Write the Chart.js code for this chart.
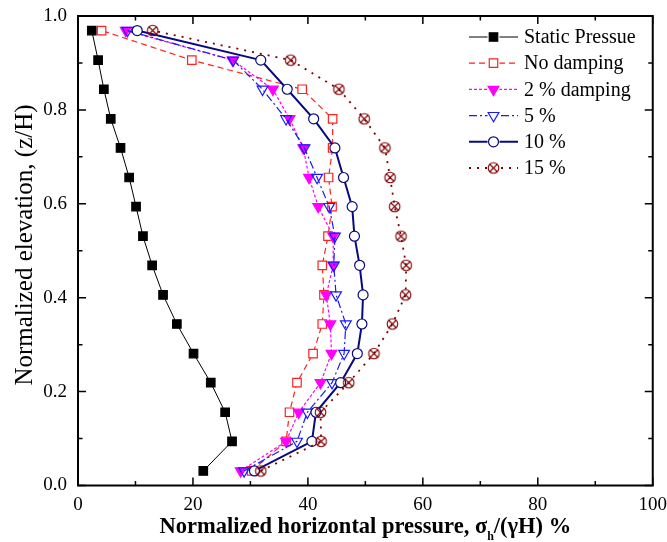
<!DOCTYPE html>
<html>
<head>
<meta charset="utf-8">
<script src="https://cdn.jsdelivr.net/npm/chart.js@4/dist/chart.umd.min.js"></script>
<style>
  html, body { margin: 0; padding: 0; background: #fff; }
  #wrap { width: 667px; height: 542px; }
</style>
</head>
<body>
<div id="wrap"><canvas id="pressureChart" width="667" height="542"></canvas></div>
<script>
// normalized elevation levels z/H (bottom -> top)
const elevation = [0.031, 0.094, 0.156, 0.219, 0.281, 0.344, 0.406, 0.469, 0.531, 0.594, 0.656, 0.719, 0.781, 0.844, 0.906, 0.969];

// normalized horizontal pressure (%) for each curve, same order as elevation
const staticPressure = [21.8, 26.8, 25.6, 23.1, 20.1, 17.2, 14.8, 12.9, 11.3, 10.1, 8.9, 7.4, 5.7, 4.5, 3.5, 2.4];
const noDamping      = [30.2, 36.2, 36.8, 38.1, 40.9, 42.5, 42.8, 42.5, 43.5, 44.2, 43.6, 44.3, 44.3, 39.0, 19.8, 4.1];
const damping2       = [28.3, 36.2, 38.4, 42.2, 44.1, 43.9, 43.2, 44.4, 44.4, 41.8, 40.2, 39.2, 36.8, 33.9, 26.9, 8.3];
const damping5       = [28.9, 38.1, 39.9, 44.2, 46.3, 46.6, 44.9, 44.5, 44.7, 43.7, 41.6, 39.4, 36.2, 32.1, 27.0, 8.6];
const damping10      = [30.7, 40.7, 41.4, 45.7, 48.6, 49.4, 49.6, 49.0, 48.1, 47.7, 46.2, 44.7, 41.0, 36.4, 31.8, 10.3];
const damping15      = [31.8, 42.3, 42.2, 47.1, 51.5, 54.7, 57.0, 57.1, 56.2, 55.1, 54.3, 53.4, 49.8, 45.4, 37.0, 13.0];

const seriesLabels = ['Static Pressue', 'No damping', '2 % damping', '5 %', '10 %', '15 %'];
const xTicks = [0, 20, 40, 60, 80, 100];
const yTicks = [0.0, 0.2, 0.4, 0.6, 0.8, 1.0];

const FONT = "'Liberation Serif', 'Times New Roman', serif";

// circle with an x inside (for the 15 % curve)
function crossCircle(color) {
    const c = document.createElement('canvas');
    c.width = 15; c.height = 15;
    const g = c.getContext('2d');
    g.strokeStyle = color;
    g.lineWidth = 1.1;
    g.beginPath();
    g.arc(7.5, 7.5, 5.3, 0, Math.PI * 2);
    g.stroke();
    const d = 5.3 * Math.SQRT1_2;
    g.beginPath();
    g.moveTo(7.5 - d, 7.5 - d); g.lineTo(7.5 + d, 7.5 + d);
    g.moveTo(7.5 + d, 7.5 - d); g.lineTo(7.5 - d, 7.5 + d);
    g.stroke();
    return c;
}

function pairs(xs) {
    return xs.map((v, i) => ({ x: v, y: elevation[i] }));
}

const styles = [
    { data: staticPressure, color: '#000000', fill: '#000000', dash: [], width: 1, pointStyle: 'rect', radius: 6, rotation: 0 },
    { data: noDamping, color: '#ff2020', fill: '#ffffff', dash: [6, 4], width: 1.2, pointStyle: 'rect', radius: 6, rotation: 0 },
    { data: damping2, color: '#ff00ff', fill: '#ff00ff', dash: [3, 2], width: 1.2, pointStyle: 'triangle', radius: 6.2, rotation: 180 },
    { data: damping5, color: '#1a1aff', fill: 'rgba(255,255,255,0)', dash: [8, 3, 2, 3], width: 1.2, pointStyle: 'triangle', radius: 6.2, rotation: 180 },
    { data: damping10, color: '#0a0a80', fill: '#ffffff', dash: [], width: 2, pointStyle: 'circle', radius: 5, rotation: 0 },
    { data: damping15, color: '#800000', fill: '#ffffff', dash: [2, 6], width: 1.8, pointStyle: crossCircle('#800000'), radius: 6, rotation: 0 }
];

const datasets = styles.map((s, i) => ({
    label: seriesLabels[i],
    data: pairs(s.data),
    showLine: true,
    borderColor: s.color,
    borderWidth: s.width,
    borderDash: s.dash,
    backgroundColor: s.fill,
    pointStyle: s.pointStyle,
    pointRadius: s.radius,
    pointRotation: s.rotation,
    pointBorderColor: s.color,
    pointBackgroundColor: s.fill,
    pointBorderWidth: 1.2,
    tension: 0,
    order: 6 - i      // later curves on top
}));

// frame + inward ticks on all four sides, titles, legend
const framePlugin = {
    id: 'frame',
    afterDraw(chart) {
        const ctx = chart.ctx;
        const a = chart.chartArea;
        const xs = chart.scales.x, ys = chart.scales.y;
        ctx.save();
        ctx.strokeStyle = '#000';
        ctx.lineWidth = 1.5;
        ctx.setLineDash([]);
        for (let v = 0; v <= 100; v += 10) {
            const px = xs.getPixelForValue(v);
            const len = v % 20 === 0 ? 8 : 4.5;
            ctx.beginPath();
            ctx.moveTo(px, a.bottom); ctx.lineTo(px, a.bottom - len);
            ctx.moveTo(px, a.top); ctx.lineTo(px, a.top + len);
            ctx.stroke();
        }
        for (let k = 0; k <= 10; k++) {
            const py = ys.getPixelForValue(k / 10);
            const len = k % 2 === 0 ? 8 : 4.5;
            ctx.beginPath();
            ctx.moveTo(a.left, py); ctx.lineTo(a.left + len, py);
            ctx.moveTo(a.right, py); ctx.lineTo(a.right - len, py);
            ctx.stroke();
        }
        ctx.lineWidth = 2;
        ctx.strokeRect(a.left, a.top, a.right - a.left, a.bottom - a.top);

        // x title with subscript h
        ctx.fillStyle = '#000';
        ctx.textBaseline = 'alphabetic';
        ctx.textAlign = 'left';
        const big = 'bold 22.5px ' + FONT, small = 'bold 12px ' + FONT;
        const p1 = 'Normalized horizontal pressure, \u03c3', p2 = 'h', p3 = '/(\u03b3H) %';
        ctx.font = big; const w1 = ctx.measureText(p1).width, w3 = ctx.measureText(p3).width;
        ctx.font = small; const w2 = ctx.measureText(p2).width;
        let x0 = (a.left + a.right) / 2 - (w1 + w2 + w3) / 2;
        const base = 533;
        ctx.font = big; ctx.fillText(p1, x0, base);
        ctx.font = small; ctx.fillText(p2, x0 + w1, base + 7);
        ctx.font = big; ctx.fillText(p3, x0 + w1 + w2, base);

        // y title
        ctx.save();
        ctx.translate(32, 245);
        ctx.rotate(-Math.PI / 2);
        ctx.textAlign = 'center';
        ctx.font = '25px ' + FONT;
        ctx.fillText('Normalized elevation, (z/H)', 0, 0);
        ctx.restore();

        // legend
        const lx0 = 469, lx1 = 518, tx = 524;
        chart.data.datasets.forEach((ds, i) => {
            const ly = 37 + i * 26.2;
            ctx.save();
            ctx.strokeStyle = ds.borderColor;
            ctx.lineWidth = ds.borderWidth;
            ctx.setLineDash(ds.borderDash);
            ctx.beginPath();
            ctx.moveTo(lx0, ly); ctx.lineTo(lx1, ly);
            ctx.stroke();
            ctx.setLineDash([]);
            ctx.fillStyle = '#fff';
            ctx.fillRect((lx0 + lx1) / 2 - 6, ly - 6, 12, 12);
            ctx.fillStyle = ds.pointBackgroundColor;
            ctx.strokeStyle = ds.pointBorderColor;
            ctx.lineWidth = ds.pointBorderWidth;
            Chart.helpers.drawPoint(ctx, {
                pointStyle: ds.pointStyle,
                rotation: ds.pointRotation,
                radius: ds.pointRadius,
                borderWidth: ds.pointBorderWidth
            }, (lx0 + lx1) / 2, ly);
            ctx.restore();
            ctx.fillStyle = '#000';
            ctx.font = '20px ' + FONT;
            ctx.textAlign = 'left';
            ctx.textBaseline = 'middle';
            ctx.fillText(ds.label, tx, ly + 1);
        });
        ctx.restore();
    }
};

new Chart(document.getElementById('pressureChart').getContext('2d'), {
    type: 'scatter',
    data: { datasets: datasets },
    options: {
        responsive: false,
        animation: false,
        layout: { padding: { top: 16, right: 14, left: 0, bottom: 0 } },
        plugins: {
            legend: { display: false },
            tooltip: { enabled: false }
        },
        scales: {
            x: {
                type: 'linear',
                min: 0, max: 100,
                afterBuildTicks: s => { s.ticks = xTicks.map(v => ({ value: v })); },
                afterFit: s => { s.height = 56.5; },
                grid: { display: false },
                border: { display: false },
                ticks: {
                    color: '#000',
                    font: { family: FONT, size: 19 },
                    padding: 0,
                    maxRotation: 0
                }
            },
            y: {
                type: 'linear',
                min: 0, max: 1,
                afterBuildTicks: s => { s.ticks = yTicks.map(v => ({ value: v })); },
                afterFit: s => { s.width = 78; },
                grid: { display: false },
                border: { display: false },
                ticks: {
                    color: '#000',
                    font: { family: FONT, size: 19 },
                    padding: 3,
                    callback: v => Number(v).toFixed(1)
                }
            }
        }
    },
    plugins: [framePlugin]
});
</script>
</body>
</html>
